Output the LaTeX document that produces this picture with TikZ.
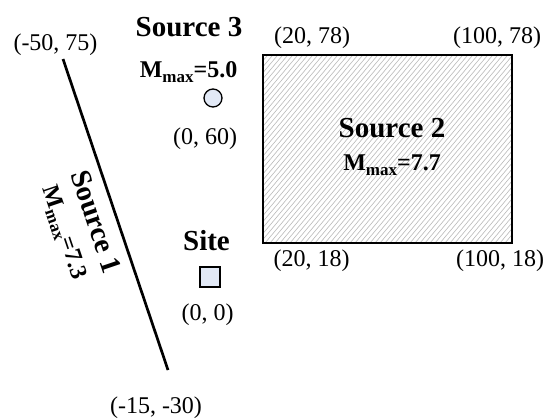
\documentclass[tikz,border=0pt]{standalone}
\usepackage{fontspec}
\setmainfont{Liberation Serif}
\definecolor{markfill}{RGB}{226,233,246}
% M_max label: bold M with a lowered "max" subscript
\newcommand{\mmaxlabel}[1]{M\raisebox{-5pt}{\fontsize{17}{17}\selectfont max}=#1}
\begin{document}
\begin{tikzpicture}[x=1pt,y=-1pt,
  title/.style={font=\fontsize{29}{32}\selectfont\bfseries, inner sep=0pt, anchor=base},
  mlabel/.style={font=\fontsize{24}{26}\selectfont\bfseries, inner sep=0pt, anchor=base},
  coord/.style={font=\fontsize{24}{26}\selectfont, inner sep=0pt, anchor=base},
  marker/.style={draw=black, line width=1.3pt, fill=markfill},
  hatch/.style={gray!55, line width=0.6pt}]
\useasboundingbox (0,0) rectangle (548,418);

% Source 1: line source
\coordinate (s1a) at (63,59);
\coordinate (s1b) at (168,370);
\draw[line width=2.7pt] (s1a) -- (s1b);
\node[coord] (c1a) at (55.5,50) {(-50, 75)};
\node[coord] (c1b) at (156,413) {(-15, -30)};
\node[title, rotate=-71.3] (s1t) at (87.4,224.9) {Source 1};
\node[mlabel, rotate=-71.3] (s1m) at (58.0,234.8) {\mmaxlabel{7.3}};

% Source 3: point source
\node[title] (s3t) at (189,36) {Source 3};
\node[mlabel] (s3m) at (188.5,77) {\mmaxlabel{5.0}};
\node[marker, circle, minimum size=18pt, inner sep=0pt] (s3) at (213,98) {};
\node[coord] (c3) at (205,144) {(0, 60)};

% Source 2: area source, hatched at 50 degrees
\begin{scope}
  \clip (263,55) rectangle (512,243);
  \foreach \x in {100,105,...,515} \draw[hatch] (\x,243) -- ++(157.8,-188);
\end{scope}
\node[draw=black, line width=1.5pt, minimum width=249pt, minimum height=188pt,
      inner sep=0pt] (s2) at (387.5,149) {};
\node[title] (s2t) at (392,137) {Source 2};
\node[mlabel] (s2m) at (392,170) {\mmaxlabel{7.7}};
\node[coord] (c2a) at (312,43) {(20, 78)};
\node[coord] (c2b) at (497,43) {(100, 78)};
\node[coord] (c2c) at (311.5,266) {(20, 18)};
\node[coord] (c2d) at (500,266) {(100, 18)};

% Site
\node[title] (sitet) at (206.5,250) {Site};
\node[marker, rectangle, minimum size=20pt, inner sep=0pt] (site) at (210,277) {};
\node[coord] (c0) at (207.5,320) {(0, 0)};
\end{tikzpicture}
\end{document}
